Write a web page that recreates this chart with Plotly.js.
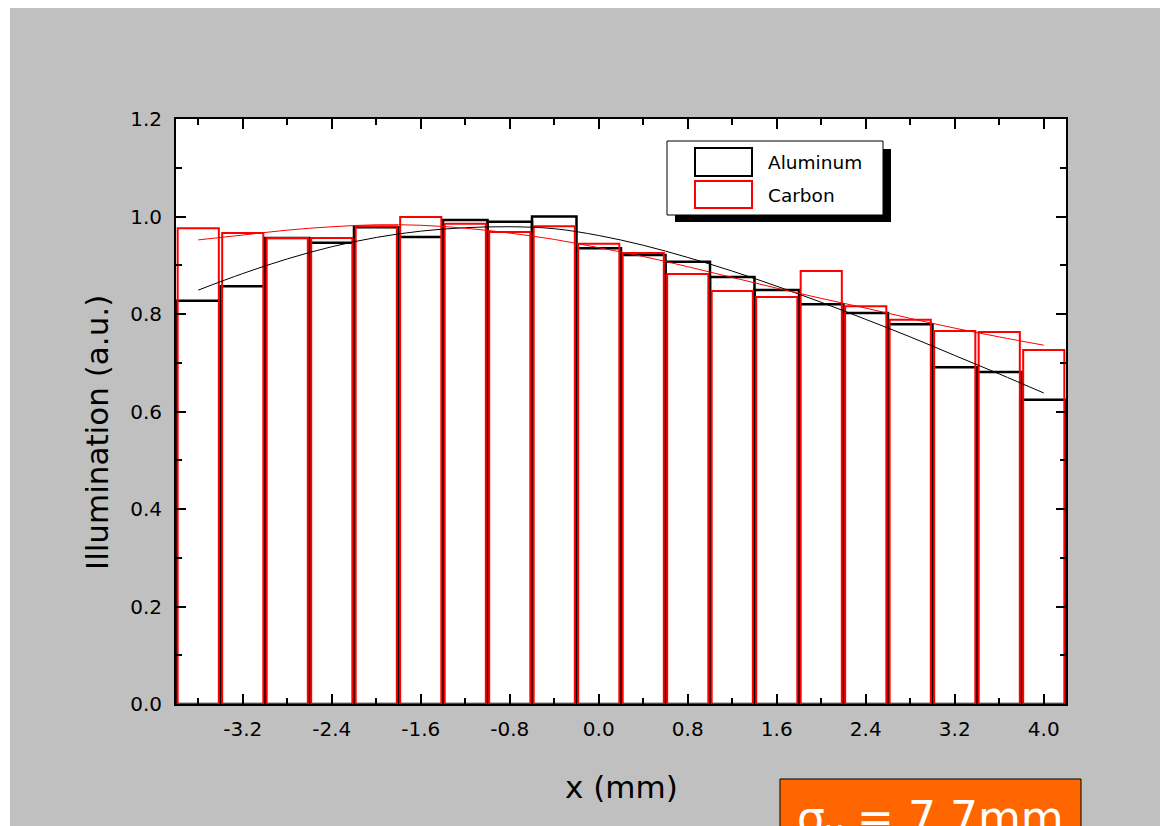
<!DOCTYPE html>
<html>
<head>
<meta charset="utf-8">
<script src="https://cdn.plot.ly/plotly-3.0.1.min.js"></script>
<style>
html,body{margin:0;padding:0;background:#ffffff;overflow:hidden;}
#chart{position:absolute;left:10px;top:8px;width:1150px;height:818px;}
</style>
</head>
<body>
<div id="chart"></div>
<script>
// ---- data ----
const binCenters = [-3.6,-3.2,-2.8,-2.4,-2.0,-1.6,-1.2,-0.8,-0.4,0.0,0.4,0.8,1.2,1.6,2.0,2.4,2.8,3.2,3.6,4.0];
const aluminum = [0.827,0.857,0.956,0.946,0.978,0.958,0.993,0.989,1.000,0.935,0.921,0.907,0.876,0.849,0.820,0.802,0.779,0.691,0.681,0.624];
const carbon   = [0.976,0.966,0.956,0.956,0.980,0.999,0.985,0.968,0.980,0.944,0.925,0.882,0.847,0.835,0.888,0.816,0.788,0.765,0.763,0.726];
const fitX = [-3.6,-3.2,-2.8,-2.4,-2.0,-1.6,-1.2,-0.8,-0.4,0.0,0.4,0.8,1.2,1.6,2.0,2.4,2.8,3.2,3.6,4.0];
const aluminumFit = [0.849,0.883,0.913,0.938,0.957,0.970,0.977,0.979,0.975,0.961,0.941,0.916,0.888,0.857,0.824,0.789,0.753,0.715,0.677,0.638];
const carbonFit   = [0.952,0.962,0.972,0.979,0.983,0.982,0.976,0.966,0.953,0.936,0.918,0.897,0.875,0.853,0.832,0.812,0.791,0.771,0.753,0.736];
const xTickVals = [-3.2,-2.4,-1.6,-0.8,0.0,0.8,1.6,2.4,3.2,4.0];
const xTickText = ["-3.2","-2.4","-1.6","-0.8","0.0","0.8","1.6","2.4","3.2","4.0"];
const yTickVals = [0.0,0.2,0.4,0.6,0.8,1.0,1.2];
const yTickText = ["0.0","0.2","0.4","0.6","0.8","1.0","1.2"];
const seriesNames = ["Aluminum","Carbon"];
const xTitle = "x (mm)";
const yTitle = "Illumination (a.u.)";
const boxText = "σ<sub>x</sub> = 7.7mm";

// ---- layout helpers (page pixels -> paper coords) ----
const PL=176, PR=1066, PT=119, PB=704;
const px = v => (v-PL)/(PR-PL);
const py = v => (PB-v)/(PB-PT);
const FONT = "DejaVu Sans, sans-serif";

const traces = [
  {type:'bar', x:binCenters, y:aluminum, width:binCenters.map(()=>0.4), base:0,
   marker:{color:'rgba(0,0,0,0)', line:{color:'#000000', width:2.5}}, name:seriesNames[0], showlegend:false, hoverinfo:'skip'},
  {type:'bar', x:binCenters, y:carbon, width:binCenters.map(()=>0.37), base:0,
   marker:{color:'rgba(0,0,0,0)', line:{color:'#ff0000', width:2}}, name:seriesNames[1], showlegend:false, hoverinfo:'skip'},
  {type:'scatter', mode:'lines', x:fitX, y:aluminumFit, line:{color:'#000000', width:1, shape:'spline'}, showlegend:false, hoverinfo:'skip'},
  {type:'scatter', mode:'lines', x:fitX, y:carbonFit, line:{color:'#ff0000', width:1, shape:'spline'}, showlegend:false, hoverinfo:'skip'}
];

const shapes = [
  {type:'rect', xref:'paper', yref:'paper', x0:px(675), x1:px(891), y0:py(222), y1:py(149), fillcolor:'#000000', line:{width:0}, layer:'above'},
  {type:'rect', xref:'paper', yref:'paper', x0:px(667), x1:px(883), y0:py(215), y1:py(141), fillcolor:'#ffffff', line:{color:'#000000', width:1}, layer:'above'},
  {type:'rect', xref:'paper', yref:'paper', x0:px(695), x1:px(752), y0:py(176), y1:py(148), fillcolor:'rgba(0,0,0,0)', line:{color:'#000000', width:2}, layer:'above'},
  {type:'rect', xref:'paper', yref:'paper', x0:px(695), x1:px(752), y0:py(208), y1:py(181), fillcolor:'rgba(0,0,0,0)', line:{color:'#ff0000', width:2}, layer:'above'},
  {type:'rect', xref:'paper', yref:'paper', x0:px(780), x1:px(1081), y0:py(900), y1:py(779), fillcolor:'#ff6600', line:{color:'#000000', width:1}, layer:'above'}
];

const annotations = [
  {xref:'paper', yref:'paper', x:px(766), y:py(163), xanchor:'left', yanchor:'middle', text:seriesNames[0], showarrow:false, font:{family:FONT, size:18.5, color:'#000'}},
  {xref:'paper', yref:'paper', x:px(766), y:py(195), xanchor:'left', yanchor:'middle', text:seriesNames[1], showarrow:false, font:{family:FONT, size:18.5, color:'#000'}},
  {xref:'paper', yref:'paper', x:px(97), y:py(433), xanchor:'center', yanchor:'middle', textangle:-90, text:yTitle, showarrow:false, font:{family:FONT, size:31, color:'#000'}},
  {xref:'paper', yref:'paper', x:px(621), y:py(787), xanchor:'center', yanchor:'middle', text:xTitle, showarrow:false, font:{family:FONT, size:31, color:'#000'}},
  {xref:'paper', yref:'paper', x:px(930), y:py(790), xanchor:'center', yanchor:'top', text:boxText, showarrow:false, font:{family:FONT, size:44, color:'#ffffff'}}
];

const layout = {
  width:1150, height:818,
  margin:{l:PL-10, r:1160-PR, t:PT-8, b:826-PB, pad:0},
  paper_bgcolor:'#c0c0c0', plot_bgcolor:'#ffffff',
  barmode:'overlay', showlegend:false,
  font:{family:FONT, size:20, color:'#000'},
  xaxis:{range:[-3.8,4.2], tickmode:'array', tickvals:xTickVals, ticktext:xTickText, ticks:'inside', ticklen:10, tickwidth:2, tickcolor:'#000',
         showline:true, linecolor:'#000', linewidth:2, mirror:'ticks', showgrid:false, zeroline:false,
         minor:{dtick:0.4, tick0:0, ticks:'inside', ticklen:6, tickwidth:2, tickcolor:'#000'},
         tickfont:{family:FONT, size:20}, ticklabelstandoff:6},
  yaxis:{range:[0,1.2], tickmode:'array', tickvals:yTickVals, ticktext:yTickText, ticks:'inside', ticklen:10, tickwidth:2, tickcolor:'#000',
         showline:true, linecolor:'#000', linewidth:2, mirror:'ticks', showgrid:false, zeroline:false,
         minor:{dtick:0.1, tick0:0, ticks:'inside', ticklen:6, tickwidth:2, tickcolor:'#000'},
         tickfont:{family:FONT, size:20}, ticklabelstandoff:8},
  shapes:shapes, annotations:annotations
};

Plotly.newPlot('chart', traces, layout, {displayModeBar:false, staticPlot:true});
</script>
</body>
</html>
